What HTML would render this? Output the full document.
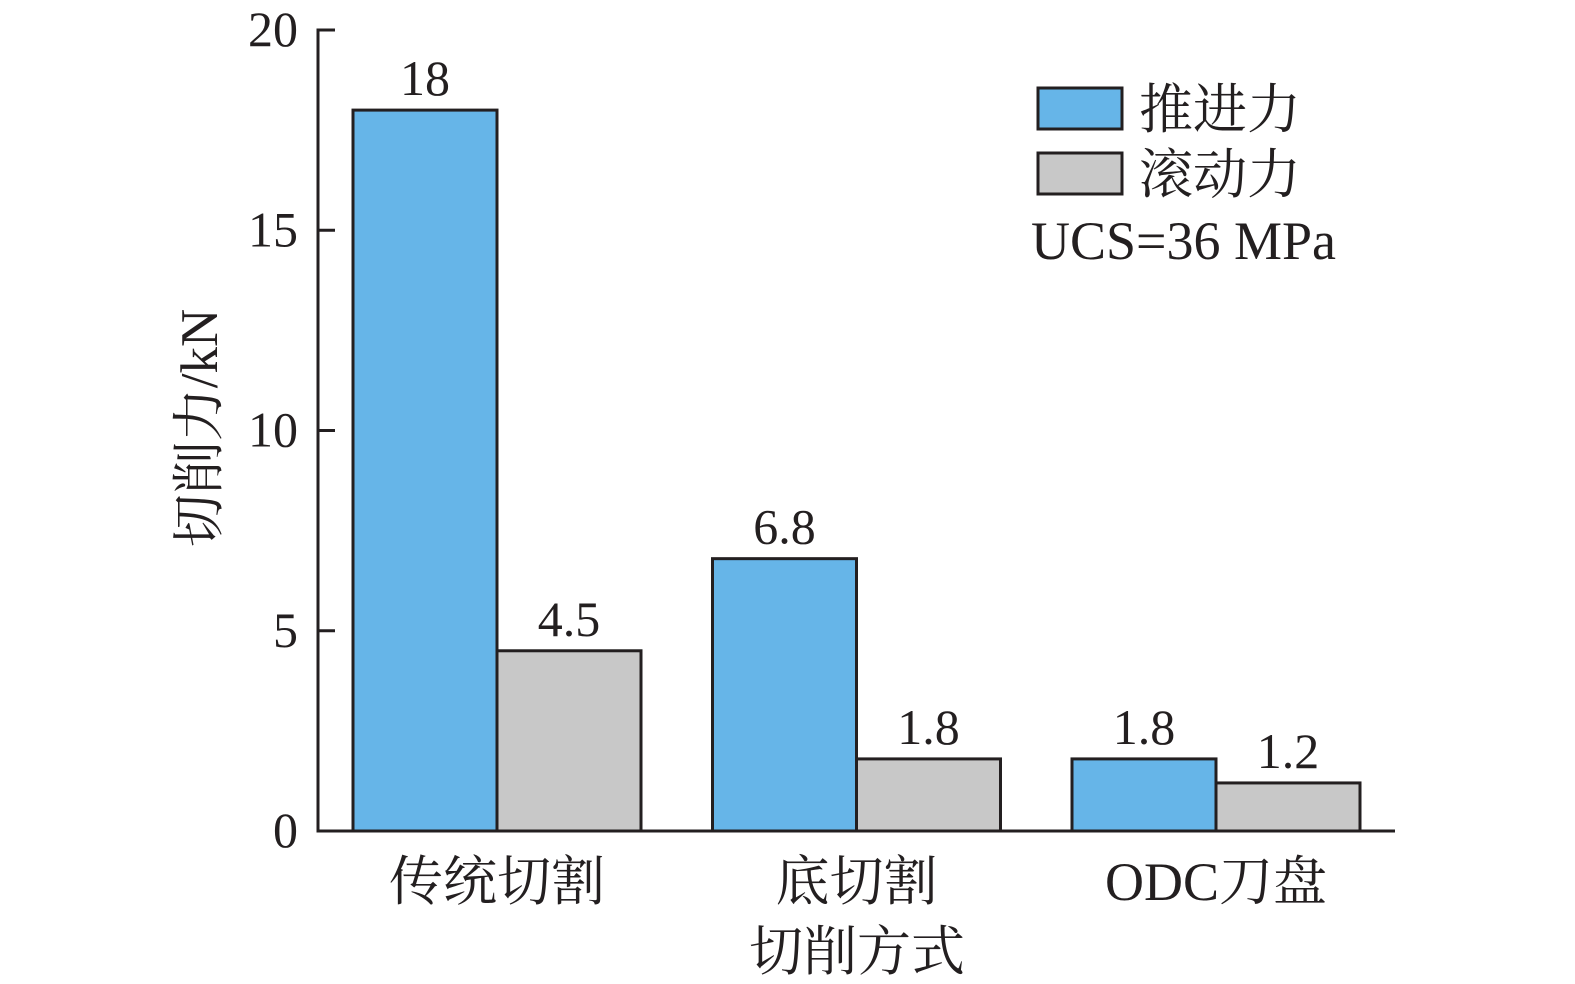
<!DOCTYPE html>
<html><head><meta charset="utf-8"><style>
html,body{margin:0;padding:0;background:#fff;overflow:hidden;width:1575px;height:984px;}
svg{display:block;}
svg text{font-family:"Liberation Serif","Noto Serif CJK SC",serif;fill:#231f20;}
</style></head><body>
<svg id="chart" width="1575" height="984" viewBox="0 0 1575 984" xmlns="http://www.w3.org/2000/svg">
<text x="857" y="970" font-size="54" text-anchor="middle">切削方式</text>
<text transform="translate(217,428) rotate(-90)" font-size="53" text-anchor="middle">切削力/kN</text>
<rect x="1038" y="88" width="84" height="41" fill="#66b5e8" stroke="#231f20" stroke-width="3"/>
<text x="1139" y="128" font-size="54">推进力</text>
<rect x="1038" y="153" width="84" height="41" fill="#c8c8c8" stroke="#231f20" stroke-width="3"/>
<text x="1139" y="193" font-size="54">滚动力</text>
<text x="1031" y="259" font-size="54">UCS=36 MPa</text>
</svg>
<script>
const categories=["传统切割","底切割","ODC刀盘"];
const thrust=[18,6.8,1.8];
const rolling=[4.5,1.8,1.2];
const thrustLabels=["18","6.8","1.8"];
const rollingLabels=["4.5","1.8","1.2"];
const yTicks=[0,5,10,15,20];
const yTickLabels=["0","5","10","15","20"];

const NS="http://www.w3.org/2000/svg";
const svg=document.getElementById('chart');
const x0=318,x1=1395,y0=831,yTop=30,yMax=20;
const yS=v=>y0-(y0-yTop)*v/yMax;
const groupX=i=>353+i*359.5;
const bw=144;
function el(tag,attrs,text){const e=document.createElementNS(NS,tag);for(const k in attrs)e.setAttribute(k,attrs[k]);if(text!==undefined)e.textContent=text;svg.appendChild(e);return e;}

categories.forEach((c,i)=>{
  const gx=groupX(i);
  let b=el('rect',{x:gx,y:yS(thrust[i]),width:bw,height:y0-yS(thrust[i]),fill:'#66b5e8',stroke:'#231f20','stroke-width':3});
  
  
  let r=el('rect',{x:gx+bw,y:yS(rolling[i]),width:bw,height:y0-yS(rolling[i]),fill:'#c8c8c8',stroke:'#231f20','stroke-width':3});
  
  
  let t=el('text',{x:gx+bw/2,y:yS(thrust[i])-15,'font-size':50,'text-anchor':'middle'},thrustLabels[i]);
  
  
  let t2=el('text',{x:gx+bw*1.5,y:yS(rolling[i])-15,'font-size':50,'text-anchor':'middle'},rollingLabels[i]);
  
  
  let cl=el('text',{x:gx+bw,y:900,'font-size':54,'text-anchor':'middle'},c);
  
  
});
let ax=el('path',{d:`M${x0+17},${yTop}H${x0}V${y0}H${x1}`,fill:'none',stroke:'#231f20','stroke-width':3});


yTicks.forEach((v,i)=>{
  let tk=el('line',{x1:x0,x2:x0+17,y1:yS(v),y2:yS(v),stroke:'#231f20','stroke-width':3});
  
  
  let tl=el('text',{x:298,y:yS(v)+16,'font-size':50,'text-anchor':'end'},yTickLabels[i]);
  
  
});
</script>
</body></html>
